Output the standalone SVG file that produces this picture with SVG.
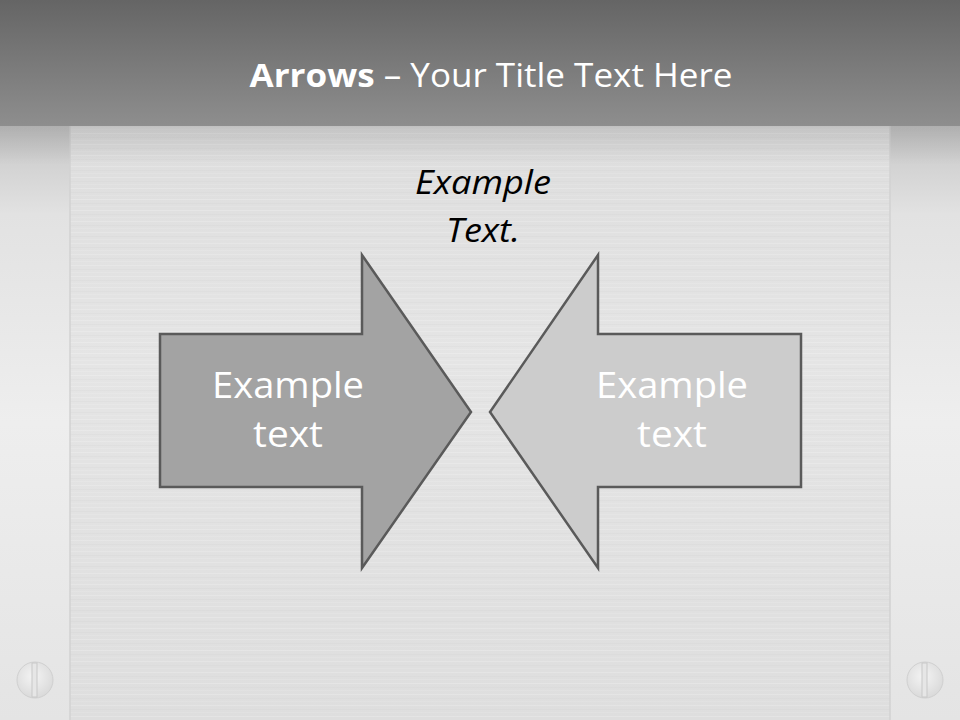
<svg xmlns="http://www.w3.org/2000/svg" width="960" height="720" viewBox="0 0 960 720">
<style>
.t{font-family:"Open Sans","Liberation Sans",sans-serif}
.arrow{stroke:#5a5a5a;stroke-width:2.5;stroke-linejoin:miter}
.lbl{font-family:"Open Sans","Liberation Sans",sans-serif;font-size:36px;fill:#ffffff;text-anchor:middle}
</style>
<defs>
<linearGradient id="top" x1="0" y1="0" x2="0" y2="1">
<stop offset="0" stop-color="#656565"/><stop offset="1" stop-color="#8e8e8e"/>
</linearGradient>
<linearGradient id="panel" x1="0" y1="0" x2="0" y2="1">
<stop offset="0" stop-color="#c0c0c0"/><stop offset="0.12" stop-color="#dcdcdc"/><stop offset="0.5" stop-color="#e5e5e5"/><stop offset="1" stop-color="#dedede"/>
</linearGradient>
<linearGradient id="side" x1="0" y1="0" x2="0" y2="1">
<stop offset="0" stop-color="#c6c6c6"/><stop offset="0.15" stop-color="#e2e2e2"/><stop offset="0.5" stop-color="#eeeeee"/><stop offset="1" stop-color="#e4e4e4"/>
</linearGradient>
<linearGradient id="shade" x1="0" y1="0" x2="0" y2="1">
<stop offset="0" stop-color="#000" stop-opacity="0.12"/><stop offset="1" stop-color="#000" stop-opacity="0"/>
</linearGradient>
<radialGradient id="screw" cx="0.45" cy="0.4" r="0.6">
<stop offset="0" stop-color="#f4f4f4"/><stop offset="1" stop-color="#dadada"/>
</radialGradient>
<pattern id="brush" x="0" y="0" width="960" height="11" patternUnits="userSpaceOnUse">
<rect x="0" y="1" width="960" height="1" fill="#ffffff" opacity="0.18"/>
<rect x="0" y="5" width="960" height="1" fill="#000000" opacity="0.015"/>
<rect x="0" y="8" width="960" height="1" fill="#ffffff" opacity="0.1"/>
</pattern>
</defs>
<rect x="0" y="0" width="960" height="720" fill="url(#panel)"/>
<rect x="70" y="125" width="820" height="595" fill="url(#brush)"/>
<rect x="0" y="125" width="70" height="595" fill="url(#side)"/>
<rect x="890" y="125" width="70" height="595" fill="url(#side)"/>
<line x1="70" y1="125" x2="70" y2="720" stroke="#d2d2d2" stroke-width="1.5"/>
<line x1="890" y1="125" x2="890" y2="720" stroke="#d2d2d2" stroke-width="1.5"/>
<rect x="0" y="125" width="960" height="40" fill="url(#shade)"/>
<rect x="0" y="0" width="960" height="126" fill="url(#top)"/>
<g id="screw-left">
<circle cx="35" cy="680" r="18" fill="url(#screw)" stroke="#d0d0d0" stroke-width="1"/>
<rect x="32" y="663" width="5" height="34" fill="#e6e6e6" stroke="#c8c8c8" stroke-width="1"/>
</g>
<g id="screw-right">
<circle cx="925" cy="680" r="18" fill="url(#screw)" stroke="#d0d0d0" stroke-width="1"/>
<rect x="922" y="663" width="5" height="34" fill="#e6e6e6" stroke="#c8c8c8" stroke-width="1"/>
</g>
<g id="title">
<text class="t" x="491" y="87" text-anchor="middle" font-size="33" fill="#ffffff" textLength="483" lengthAdjust="spacingAndGlyphs"><tspan font-weight="bold">Arrows</tspan> – Your Title Text Here</text>
</g>
<g id="caption">
<text class="t" x="483" y="194" text-anchor="middle" font-size="32" font-style="italic" fill="#000000" textLength="136" lengthAdjust="spacingAndGlyphs">Example</text>
<text class="t" x="483" y="242" text-anchor="middle" font-size="32" font-style="italic" fill="#000000" textLength="74" lengthAdjust="spacingAndGlyphs">Text.</text>
</g>
<g id="arrow-right">
<polygon class="arrow" fill="#a3a3a3" points="160,334 362,334 362,255 471,412 362,568 362,487 160,487"/>
<text class="lbl" x="288" y="398" textLength="152" lengthAdjust="spacingAndGlyphs">Example</text>
<text class="lbl" x="288" y="447" textLength="70" lengthAdjust="spacingAndGlyphs">text</text>
</g>
<g id="arrow-left">
<polygon class="arrow" fill="#cccccc" points="801,334 598,334 598,255 490,412 598,568 598,487 801,487"/>
<text class="lbl" x="672" y="398" textLength="152" lengthAdjust="spacingAndGlyphs">Example</text>
<text class="lbl" x="672" y="447" textLength="70" lengthAdjust="spacingAndGlyphs">text</text>
</g>
<g id="connectors"/>
</svg>
